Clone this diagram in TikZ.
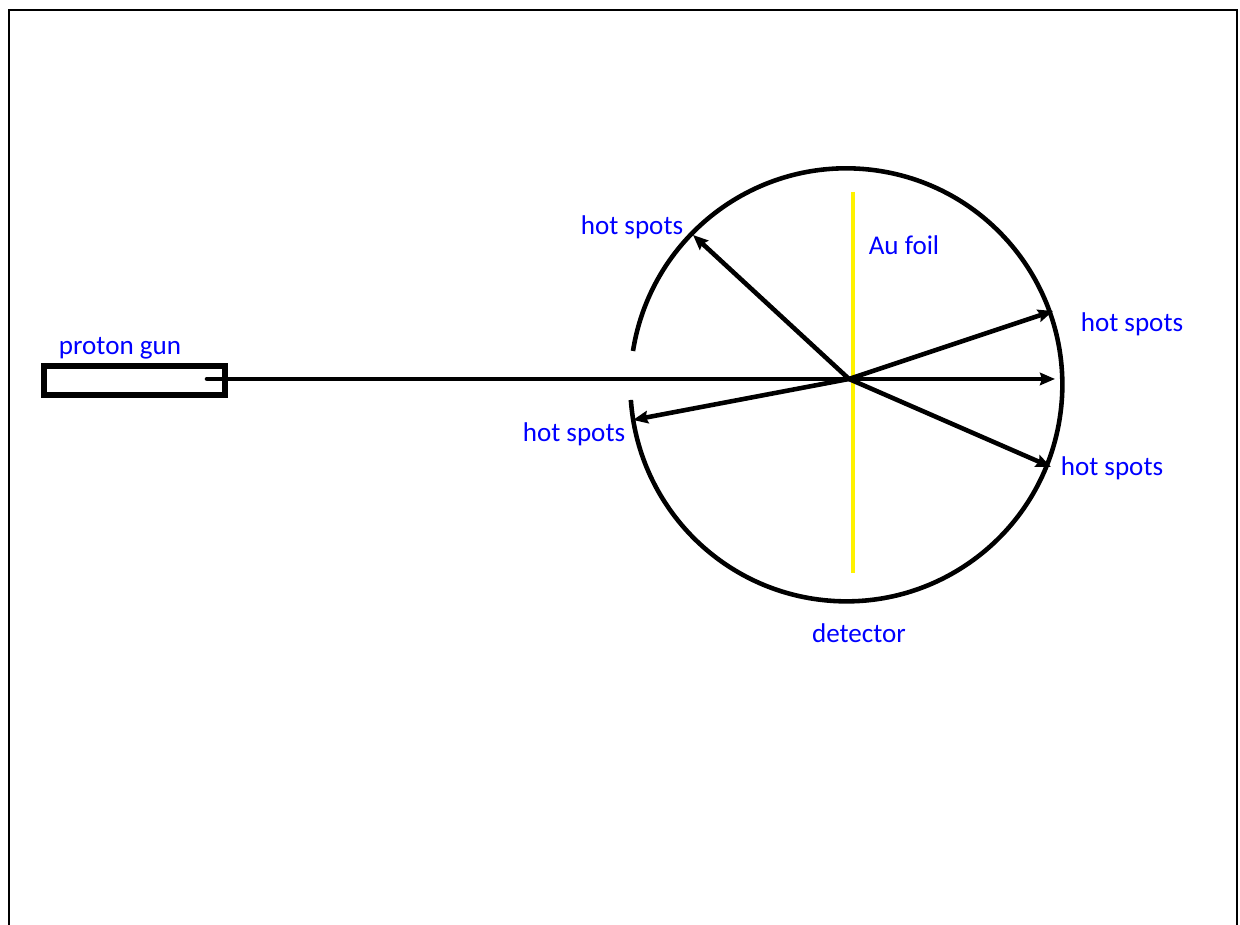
\documentclass[tikz,border=0pt]{standalone}
\usepackage{fontspec}
\setmainfont{Carlito}
\usetikzlibrary{arrows.meta}
\tikzset{
	beam/.style = {line width = 1.3pt, line cap = round},
	ray/.style = {beam, -{Stealth[length = 1.5mm, width = 1.25mm, inset = 0.2mm]}},
	tag/.style = {text = blue, font = \fontsize{7.7}{9}\selectfont, inner sep = 0pt},
}
\begin{document}
	\begin{tikzpicture}
	\useasboundingbox (0,0) rectangle (12.4,9.25);
	% page edge, open at the bottom
	\draw [line width = 0.7pt] (0.09,0) -- (0.09,9.15) -- (12.37,9.15) -- (12.37,0);
	% foil
	\draw [line width = 1.3pt, yellow] (8.53,7.33) -- (8.53,3.52);
	% detector
	\draw [line width = 1.3pt] (6.33,5.74) arc (171:-176:2.16 and 2.165);
	% gun
	\node [draw, line width = 1.5pt, minimum width = 1.81cm, minimum height = 0.29cm, inner sep = 0pt] (gun) at (1.345,5.445) {};
	\coordinate (muzzle) at (2.07,5.46);
	\coordinate (hit) at (8.49,5.46);
	\coordinate (spotA) at (6.93,6.9);
	\coordinate (spotB) at (10.53,6.14);
	\coordinate (spotC) at (10.55,5.46);
	\coordinate (spotD) at (10.51,4.58);
	\coordinate (spotE) at (6.33,5.05);
	\draw [beam] (muzzle) -- (hit);
	\draw [ray] (hit) -- (spotA);
	\draw [ray] (hit) -- (spotB);
	\draw [ray] (hit) -- (spotC);
	\draw [ray] (hit) -- (spotD);
	\draw [ray] (hit) -- (spotE);
	\node [tag] (labelgun) at (1.2,5.77) {proton gun};
	\node [tag] (labelfoil) at (9.04,6.8) {Au foil};
	\node [tag] (labelA) at (6.32,6.98) {hot spots};
	\node [tag] (labelB) at (11.32,6.01) {hot spots};
	\node [tag] (labelD) at (11.12,4.57) {hot spots};
	\node [tag] (labelE) at (5.74,4.91) {hot spots};
	\node [tag] (labeldet) at (8.59,2.92) {detector};
	\end{tikzpicture}
\end{document}
